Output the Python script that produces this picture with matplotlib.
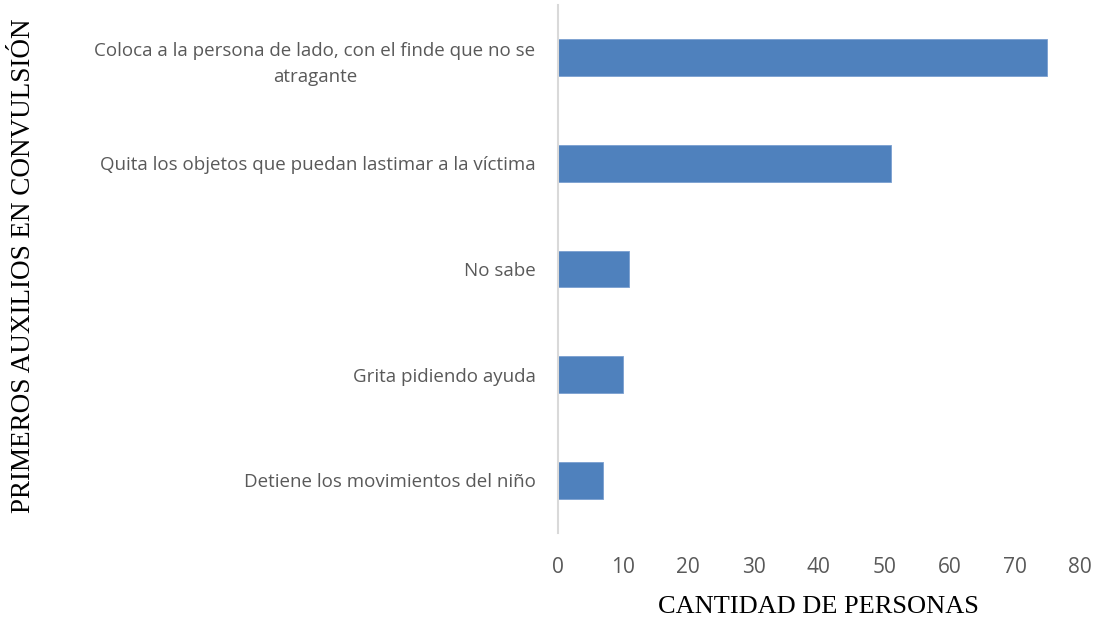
import matplotlib.pyplot as plt
import numpy as np

# Data
categorias = ["Detiene los movimientos del niño",
              "Grita pidiendo ayuda",
              "No sabe",
              "Quita los objetos que puedan lastimar a la víctima",
              "Coloca a la persona de lado, con el finde que no se\natragante"]
personas = [7, 10, 11, 51, 75]
x_ticks = [0, 10, 20, 30, 40, 50, 60, 70, 80]

fig = plt.figure(figsize=(11.02, 6.17), dpi=100)
ax = fig.add_axes([0.506, 0.136, 0.474, 0.856])

y_pos = np.arange(len(categorias))
ax.barh(y_pos, personas, height=0.35, color='#4f81bd', edgecolor='#7a9fd0', linewidth=0.6)

ax.set_xlim(0, 80)
ax.set_ylim(-0.5, len(categorias) - 0.5)
ax.set_xticks(x_ticks)
ax.set_xticklabels([str(t) for t in x_ticks], fontsize=15, color='#595959', family='Open Sans')
ax.set_yticks(y_pos)
ax.set_yticklabels(categorias, fontsize=13.5, color='#595959', family='Open Sans',
                   multialignment='center', linespacing=1.6)
ax.tick_params(axis='both', length=0)
ax.tick_params(axis='x', pad=17)
ax.tick_params(axis='y', pad=16)

for s in ['top', 'right', 'bottom']:
    ax.spines[s].set_visible(False)
ax.spines['left'].set_color('#d9d9d9')
ax.spines['left'].set_linewidth(1.5)

ax.set_xlabel("CANTIDAD DE PERSONAS", fontsize=19, family='Liberation Serif', color='black', labelpad=13)
fig.text(0.021, 0.569, "PRIMEROS AUXILIOS EN CONVULSIÓN", rotation=90, fontsize=19.5,
         family='Liberation Serif', va='center', ha='center')

fig.savefig("out.png", dpi=100)
